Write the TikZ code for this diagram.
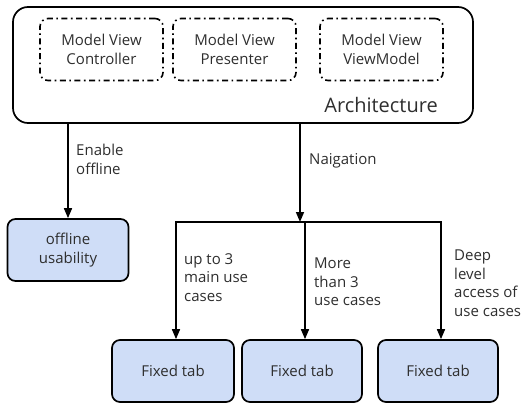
\documentclass[tikz,border=0pt]{standalone}
\usepackage{fontspec}
\setmainfont{Open Sans}
\usetikzlibrary{arrows.meta}
\definecolor{boxblue}{HTML}{CFDDF7}
\definecolor{txt}{HTML}{2E2E2E}
\begin{document}
\begin{tikzpicture}[x=1pt,y=-1pt,
  every node/.style={text=txt,font=\fontsize{15}{18.5}\selectfont},
  archbox/.style={draw,line width=1.7pt,rounded corners=15pt,minimum width=460pt,minimum height=116pt},
  patbox/.style={draw,line width=1.6pt,rounded corners=8pt,dash pattern=on 6pt off 3.5pt on 1.6pt off 3.5pt,minimum width=123pt,minimum height=62pt,align=center},
  bluebox/.style={draw,fill=boxblue,line width=1.7pt,rounded corners=8pt,minimum height=62pt,align=center},
  conn/.style={line width=1.6pt,-{Triangle[length=10pt,width=8pt]}},
  lab/.style={anchor=west,align=left,inner sep=0pt}
]
\useasboundingbox (0,0) rectangle (530,404);
\node[archbox] (arch) at (243,65) {};
\node[patbox] (mvc) at (101.5,49.5) {Model View\\Controller};
\node[patbox] (mvp) at (234.5,49.5) {Model View\\Presenter};
\node[patbox] (mvvm) at (381.5,49.5) {Model View\\ViewModel};
\node[anchor=east,inner sep=0pt,font=\fontsize{20}{24}\selectfont] (archlab) at (438,105) {Architecture};

\node[bluebox,minimum width=121pt] (offline) at (68,250) {offline\\usability};
\node[bluebox,minimum width=122pt] (tab1) at (173,371) {Fixed tab};
\node[bluebox,minimum width=120pt] (tab2) at (302,371) {Fixed tab};
\node[bluebox,minimum width=120pt] (tab3) at (438,371) {Fixed tab};

\coordinate (j) at (300,222);
\coordinate (jl) at (176,222);
\coordinate (jm) at (305,222);
\coordinate (jr) at (441,222);

\draw[conn] (arch.south -| offline) -- (offline.north);
\draw[conn] (arch.south -| j) -- (j);
\draw[line width=1.6pt,line cap=rect] (jl) -- (jr);
\draw[conn] (jl) -- (jl |- tab1.north);
\draw[conn] (jm) -- (jm |- tab2.north);
\draw[conn] (jr) -- (jr |- tab3.north);

\node[lab] (l1) at (76,159.5) {Enable\\offline};
\node[lab] (l2) at (309,161) {Naigation};
\node[lab] (l3) at (184,277.5) {up to 3\\main use\\cases};
\node[lab] (l4) at (314,282) {More\\than 3\\use cases};
\node[lab] (l5) at (454,283) {Deep\\level\\access of\\use cases};
\end{tikzpicture}
\end{document}
